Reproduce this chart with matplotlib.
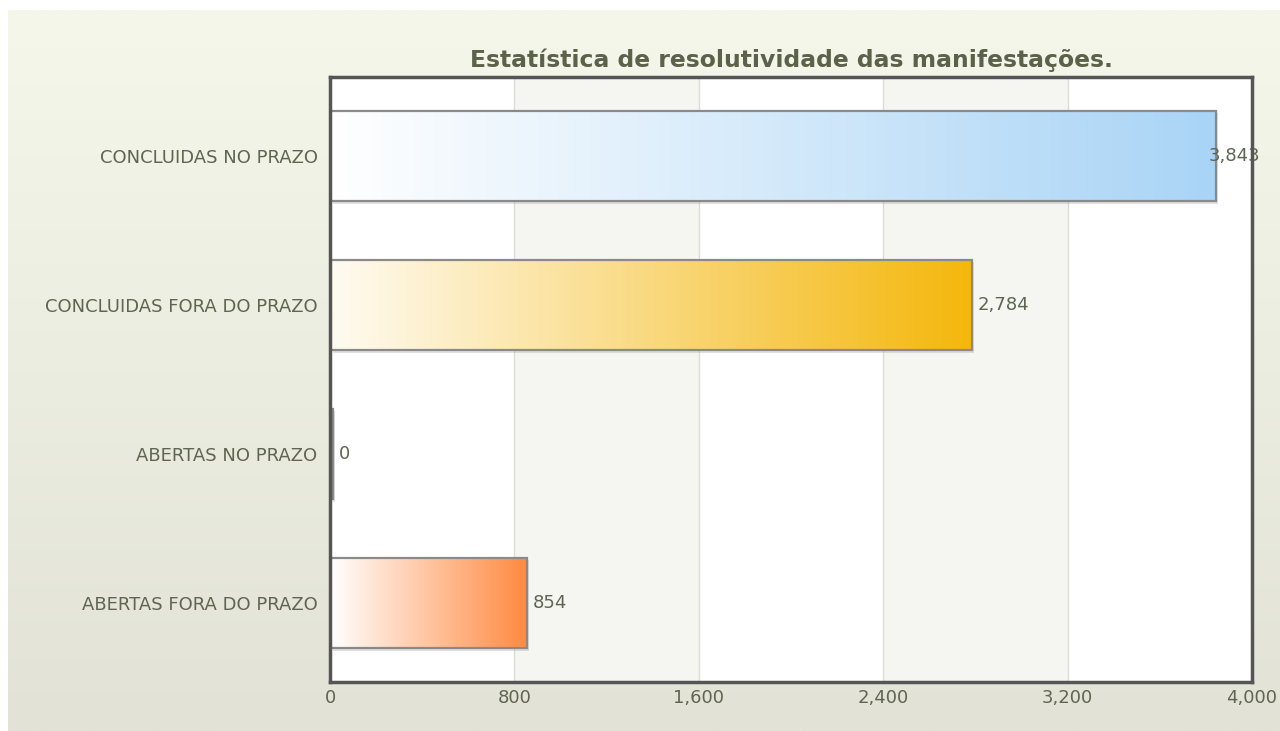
import matplotlib
matplotlib.use("Agg")
import matplotlib.pyplot as plt
import matplotlib.transforms as mtransforms
from matplotlib.colors import LinearSegmentedColormap
from matplotlib.patches import Rectangle
import numpy as np

CATEGORIES = ["CONCLUIDAS NO PRAZO", "CONCLUIDAS FORA DO PRAZO",
              "ABERTAS NO PRAZO", "ABERTAS FORA DO PRAZO"]
VALUES = [3843, 2784, 0, 854]
END_COLORS = ["#a9d4f6", "#f4b70c", "#9a9a9a", "#ff8a42"]
START_COLORS = ["#ffffff", "#fffbf2", "#9a9a9a", "#ffffff"]
XTICKS = [0, 800, 1600, 2400, 3200, 4000]
TITLE = "Estatística de resolutividade das manifestações."

TEXT_COLOR = "#5f6550"
FRAME_COLOR = "#555555"
LABEL_SIZE = 13

plt.rcParams["font.family"] = ["DejaVu Sans"]

fig = plt.figure(figsize=(12.8, 7.31), dpi=100)
fig.patch.set_facecolor("white")

# outer panel with vertical gradient
W, H = 1280, 731
bg = fig.add_axes([8 / W, 0, 1 - 8 / W, (H - 10) / H])
bg_cmap = LinearSegmentedColormap.from_list("bg", ["#f5f7eb", "#e2e3d6"])
bg.imshow(np.linspace(0, 1, 256).reshape(-1, 1), cmap=bg_cmap, aspect="auto",
          extent=[0, 1, 1, 0])
bg.set_axis_off()

ax = fig.add_axes([330 / W, 1 - 682 / H, (1252 - 330) / W, (682 - 77) / H])
ax.set_facecolor("white")
ax.set_xlim(0, 4000)
ax.set_ylim(3.53, -0.53)

# alternating bands + grid
for i in range(len(XTICKS) - 1):
    if i % 2 == 1:
        ax.axvspan(XTICKS[i], XTICKS[i + 1], color="#f5f6f1", zorder=0, lw=0)
for x in XTICKS[1:-1]:
    ax.axvline(x, color="#dcddd6", lw=1, zorder=0.5)

bar_h = 0.61
min_w = 12  # minimum drawn width for zero value bar
for i, (cat, v) in enumerate(zip(CATEGORIES, VALUES)):
    w = max(v, min_w)
    y0 = i - bar_h / 2
    # shadow
    shadow_tr = mtransforms.offset_copy(ax.transData, fig=fig, x=2.5, y=-2.5, units="dots")
    ax.add_patch(Rectangle((0, y0), w, bar_h, facecolor="#999999", alpha=0.3,
                           lw=0, transform=shadow_tr, zorder=1))
    cmap = LinearSegmentedColormap.from_list(f"c{i}", [START_COLORS[i], END_COLORS[i]])
    ax.imshow(np.linspace(0, 1, 256).reshape(1, -1), cmap=cmap, aspect="auto",
              extent=[0, w, i + bar_h / 2, y0], zorder=2)
    ax.add_patch(Rectangle((0, y0), w, bar_h, facecolor="none", edgecolor="#8a8a8a",
                           lw=1.6, zorder=3))
    # value label (shifted back inside when it would overflow the frame)
    off = -7 if v > 0.95 * 4000 else 6
    tr = mtransforms.offset_copy(ax.transData, fig=fig, x=off, y=0, units="dots")
    ax.text(w, i, f"{v:,}", transform=tr, ha="left", va="center", fontsize=LABEL_SIZE,
            color=TEXT_COLOR, zorder=4, clip_on=False)

ax.set_xlim(0, 4000)
ax.set_ylim(3.53, -0.53)
ax.set_yticks(range(len(CATEGORIES)))
ax.set_yticklabels(CATEGORIES)
ax.set_xticks(XTICKS)
ax.set_xticklabels([f"{t:,}" for t in XTICKS])
ax.tick_params(axis="both", length=0, labelsize=LABEL_SIZE, colors=TEXT_COLOR)
ax.tick_params(axis="y", pad=9)
ax.tick_params(axis="x", pad=5)
for s in ax.spines.values():
    s.set_color(FRAME_COLOR)
    s.set_linewidth(2.5)
    s.set_zorder(5)

fig.text((330 + 1252) / 2 / W, 1 - 60 / H, TITLE, ha="center", va="center",
         fontsize=16.9, fontweight="bold", color="#5c6149")

fig.savefig("out.png", dpi=100)
